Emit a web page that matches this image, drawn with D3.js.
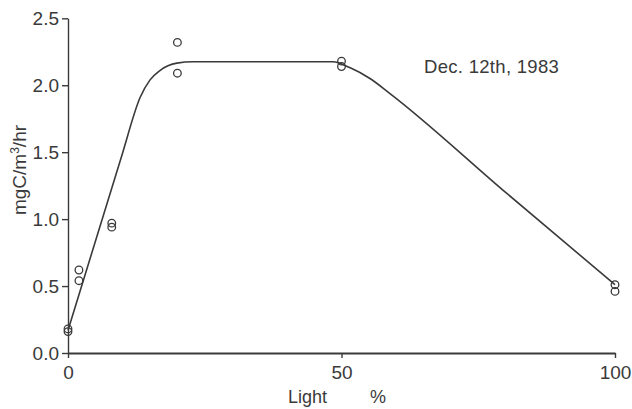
<!DOCTYPE html>
<html>
<head>
<meta charset="utf-8">
<script src="https://cdn.jsdelivr.net/npm/d3@7"></script>
<style>
  body { margin: 0; background: #fff; }
  svg text { font-family: "Liberation Sans", Arial, sans-serif; fill: #3a3a3a; }
</style>
</head>
<body>
<div id="chart"></div>
<script>
// measured points (light %, production)
var lightPct = [0, 0, 2, 2, 8, 8, 20, 20, 50, 50, 100, 100];
var rate = [0.18, 0.16, 0.62, 0.54, 0.97, 0.94, 2.32, 2.09, 2.18, 2.14, 0.51, 0.46];

// hand-fitted curve
var curveX = [0, 9.8, 13.2, 15, 16.8, 19.9, 22.9, 48.4, 51.6, 55.2, 58.8, 80, 100];
var curveY = [0.17, 1.47, 1.91, 2.04, 2.11, 2.165, 2.175, 2.175, 2.13, 2.05, 1.94, 1.2, 0.51];

var xTicks = [0, 50, 100];
var yTicks = [0, 0.5, 1, 1.5, 2, 2.5];

var width = 632, height = 409;
var svg = d3.select("#chart").append("svg")
    .attr("width", width).attr("height", height);

var x = d3.scaleLinear().domain([0, 100]).range([68, 615]);
var y = d3.scaleLinear().domain([0, 2.5]).range([353, 18.3]);

var ink = "#3a3a3a";

// axes
var yAxis = svg.append("g")
    .attr("transform", "translate(68,0)")
    .call(d3.axisLeft(y).tickValues(yTicks).tickFormat(d3.format(".1f"))
      .tickSize(6).tickSizeOuter(0).tickPadding(3));

var xAxis = svg.append("g")
    .attr("transform", "translate(0,353)")
    .call(d3.axisBottom(x).tickValues(xTicks).tickFormat(d3.format("d"))
      .tickSize(5).tickSizeOuter(0).tickPadding(8));

[yAxis, xAxis].forEach(function(a){
  a.selectAll("path, line").attr("stroke", ink).attr("stroke-width", 1.4);
  a.selectAll("text").style("font-size", "19px").attr("fill", ink);
});
xAxis.select(".domain").attr("stroke-width", 1.8);

// fitted line
var pts = curveX.map(function(v, i){ return [v, curveY[i]]; });
var line = d3.line()
    .x(function(d){ return x(d[0]); })
    .y(function(d){ return y(d[1]); })
    .curve(d3.curveMonotoneX);

svg.append("path")
    .datum(pts)
    .attr("d", line)
    .attr("fill", "none")
    .attr("stroke", ink)
    .attr("stroke-width", 1.6);

// data circles
svg.append("g").selectAll("circle")
    .data(lightPct)
    .join("circle")
    .attr("cx", function(d){ return x(d); })
    .attr("cy", function(d, i){ return y(rate[i]); })
    .attr("r", 3.8)
    .attr("fill", "none")
    .attr("stroke", ink)
    .attr("stroke-width", 1.3);

// labels
svg.append("text")
    .attr("transform", "translate(26,170) rotate(-90)")
    .attr("text-anchor", "middle")
    .style("font-size", "19px")
    .html("mgC/m<tspan font-size=\"12px\" dy=\"-7\">3</tspan><tspan dy=\"7\">/hr</tspan>");

svg.append("text")
    .attr("x", 288).attr("y", 403)
    .style("font-size", "18px")
    .text("Light");

svg.append("text")
    .attr("x", 370).attr("y", 403)
    .style("font-size", "18px")
    .text("%");

svg.append("text")
    .attr("x", 424).attr("y", 73)
    .style("font-size", "18.5px")
    .style("letter-spacing", "0.3px")
    .text("Dec. 12th, 1983");
</script>
</body>
</html>
